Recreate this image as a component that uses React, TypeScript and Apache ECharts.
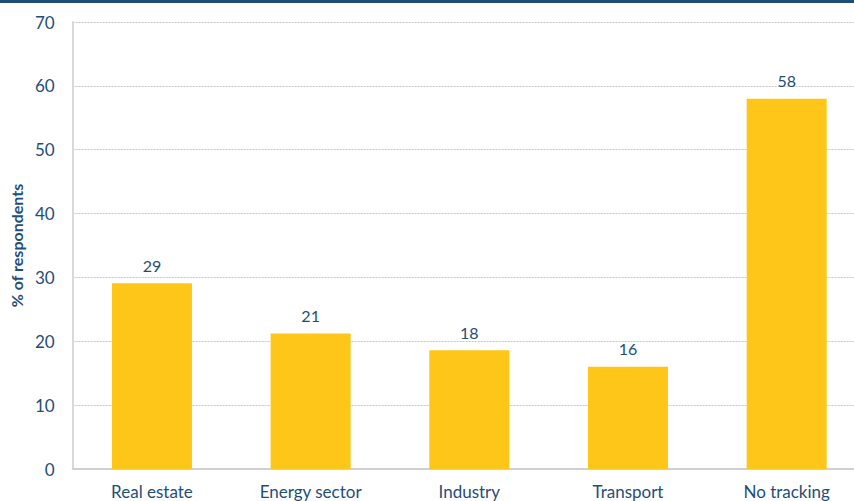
import React, { useEffect, useRef } from "react";
import * as echarts from "echarts";

const categories = ["Real estate", "Energy sector", "Industry", "Transport", "No tracking"];
const values = [29.1, 21.2, 18.6, 16.0, 58.0];
const valueLabels = ["29", "21", "18", "16", "58"];
const yTicks = { min: 0, max: 70, interval: 10 };

const BLUE = "#1f4e79";
const FONT = "Lato, 'Open Sans', sans-serif";

export default function App() {
  const ref = useRef<HTMLDivElement>(null);
  useEffect(() => {
    const chart = echarts.init(ref.current!, null, { renderer: "svg" });
    chart.setOption({
      animation: false,
      backgroundColor: "#ffffff",
      grid: { left: 71, top: 22, width: 795, height: 447, containLabel: false },
      graphic: [
        { type: "rect", left: 0, top: 0, shape: { x: 0, y: 0, width: 854, height: 3 }, style: { fill: BLUE } },
      ],
      xAxis: {
        type: "category",
        data: categories,
        axisLine: { lineStyle: { color: "#d0d0d0", width: 2 } },
        axisTick: { show: false },
        axisLabel: { color: BLUE, fontSize: 17, fontFamily: FONT, margin: 14, verticalAlign: "top", interval: 0 },
      },
      yAxis: {
        type: "value",
        min: yTicks.min,
        max: yTicks.max,
        interval: yTicks.interval,
        name: "% of respondents",
        nameLocation: "middle",
        nameGap: 47,
        nameTextStyle: { color: BLUE, fontSize: 16, fontWeight: "bold", fontFamily: FONT },
        axisLine: { show: true, lineStyle: { color: "#d9d9d9", width: 2 } },
        axisTick: { show: false },
        axisLabel: { color: BLUE, fontSize: 17, fontFamily: FONT, margin: 18 },
        splitLine: { lineStyle: { color: "#c8c8c8", type: [2, 1], width: 1 } },
      },
      series: [
        {
          type: "bar",
          data: values,
          barWidth: 80,
          itemStyle: { color: "#ffc61a" },
          label: {
            show: true,
            position: "top",
            distance: 10,
            color: BLUE,
            fontSize: 16,
            fontFamily: FONT,
            formatter: (p: any) => valueLabels[p.dataIndex],
          },
        },
      ],
    });
    return () => chart.dispose();
  }, []);
  return (
    <div style={{ position: "fixed", left: 0, top: 0, width: 854, height: 501, overflow: "hidden" }}>
      <div ref={ref} style={{ width: 870, height: 501 }} />
    </div>
  );
}
